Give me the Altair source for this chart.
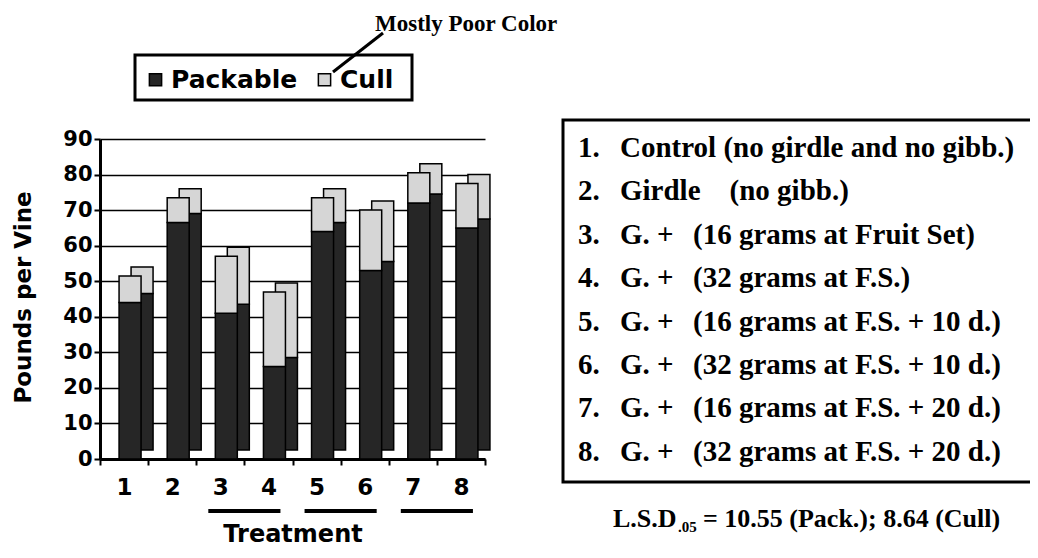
import altair as alt
import pandas as pd

# ---------------- data ----------------
treatments = ["1", "2", "3", "4", "5", "6", "7", "8"]
packable = [44, 66.5, 41, 26, 64, 53, 72, 65]
cull = [7.5, 7, 16, 21, 9.5, 17, 8.5, 12.5]
series = ["Packable", "Cull"]
series_colors = ["#262626", "#d6d6d6"]

group_start = ["3", "5", "7"]
group_end = ["4", "6", "8"]

list_nums = ["1.", "2.", "3.", "4.", "5.", "6.", "7.", "8."]
list_names = [
    "Control (no girdle and no gibb.)",
    "Girdle" + "\u00a0" * 4 + "(no gibb.)",
    "G. +", "G. +", "G. +", "G. +", "G. +", "G. +",
]
list_details = [
    "", "",
    "(16 grams at Fruit Set)",
    "(32 grams at F.S.)",
    "(16 grams at F.S. + 10 d.)",
    "(32 grams at F.S. + 10 d.)",
    "(16 grams at F.S. + 20 d.)",
    "(32 grams at F.S. + 20 d.)",
]
annotation = "Mostly Poor Color"
lsd_main = "L.S.D"
lsd_sub = ".05"
lsd_rest = "= 10.55 (Pack.); 8.64 (Cull)"

rows = []
for t, p, c in zip(treatments, packable, cull):
    rows.append({"treatment": t, "series": series[0], "value": p, "ord": 0})
    rows.append({"treatment": t, "series": series[1], "value": c, "ord": 1})
bars_df = pd.DataFrame(rows)
groups_df = pd.DataFrame({"start": group_start, "end": group_end})

SANS = "DejaVu Sans"
SERIF = "Liberation Serif"

x_scale = alt.Scale(domain=treatments, paddingInner=0, paddingOuter=0)
x_axis = alt.Axis(
    title="Treatment", labelAngle=0, labelFont=SANS, labelFontSize=23,
    labelFontWeight="bold", labelColor="black", labelPadding=11,
    tickBand="extent", tickSize=6, tickWidth=2, tickColor="black",
    domainWidth=3, domainColor="black", grid=False,
    titleFont=SANS, titleFontSize=24, titleFontWeight="bold", titleColor="black",
    titleY=75, titleBaseline="middle",
)
y_scale = alt.Scale(domain=[0, 90], nice=False)
y_axis = alt.Axis(
    title="Pounds per Vine", values=list(range(0, 100, 10)),
    labelFont=SANS, labelFontSize=21, labelFontWeight="bold", labelColor="black",
    labelPadding=2, tickSize=6, tickWidth=2, tickColor="black",
    domainWidth=3, domainColor="black", grid=True, gridColor="black", gridWidth=1.5,
    titleFont=SANS, titleFontSize=23, titleFontWeight="bold", titleColor="black",
    titleAngle=270, titleX=-77, titleY=158, titleAlign="center", titleBaseline="middle",
)
legend = alt.Legend(
    title=None, orient="none", legendX=43, legendY=-72, direction="horizontal",
    symbolType="square", symbolSize=150, symbolStrokeColor="black", symbolStrokeWidth=1.5,
    labelFont=SANS, labelFontSize=25, labelFontWeight="bold", labelColor="black",
    labelOffset=3, columnPadding=14, padding=0,
)

enc = dict(
    x=alt.X("treatment:N", scale=x_scale, axis=x_axis),
    y=alt.Y("value:Q", stack="zero", scale=y_scale, axis=y_axis),
    color=alt.Color("series:N", scale=alt.Scale(domain=series, range=series_colors), legend=legend),
    order=alt.Order("ord:Q", sort="ascending"),
)

back = alt.Chart(bars_df).mark_bar(size=22, xOffset=18, yOffset=-9, stroke="black", strokeWidth=1.5).encode(**enc)
front = alt.Chart(bars_df).mark_bar(size=22, xOffset=6, stroke="black", strokeWidth=1.5).encode(**enc)

underlines = alt.Chart(groups_df).mark_rule(strokeWidth=4, color="black", xOffset=-12, x2Offset=12).encode(
    x=alt.X("start:N", scale=x_scale, axis=x_axis),
    x2="end:N",
    y=alt.value(372),
)

one = pd.DataFrame({"k": [0]})

legend_box = alt.Chart(one).mark_rect(fillOpacity=0, stroke="black", strokeWidth=3).encode(
    x=alt.value(35), x2=alt.value(312), y=alt.value(-84), y2=alt.value(-39)
)
leader = alt.Chart(one).mark_rule(strokeWidth=3, color="black").encode(
    x=alt.value(283), x2=alt.value(233), y=alt.value(-106), y2=alt.value(-67)
)
annot = alt.Chart(pd.DataFrame({"t": [annotation]})).mark_text(
    font=SERIF, fontSize=23, fontWeight="bold", align="left", baseline="middle", color="black"
).encode(x=alt.value(275), y=alt.value(-115), text="t:N")

list_box = alt.Chart(one).mark_rect(fillOpacity=0, stroke="black", strokeWidth=3).encode(
    x=alt.value(463), x2=alt.value(960), y=alt.value(-19), y2=alt.value(343)
)

text_layers = []
for i, (n, nm, d) in enumerate(zip(list_nums, list_names, list_details)):
    yy = 9 + 43.4 * i
    for xx, s in ((478, n), (520, nm), (593, d)):
        if not s:
            continue
        text_layers.append(
            alt.Chart(pd.DataFrame({"t": [s]})).mark_text(
                font=SERIF, fontSize=29, fontWeight="bold", align="left", baseline="middle", color="black"
            ).encode(x=alt.value(xx), y=alt.value(yy), text="t:N")
        )

lsd_layers = [
    alt.Chart(pd.DataFrame({"t": [lsd_main]})).mark_text(
        font=SERIF, fontSize=26, fontWeight="bold", align="left", baseline="middle", color="black"
    ).encode(x=alt.value(513), y=alt.value(380), text="t:N"),
    alt.Chart(pd.DataFrame({"t": [lsd_sub]})).mark_text(
        font=SERIF, fontSize=15, fontWeight="bold", align="left", baseline="middle", color="black"
    ).encode(x=alt.value(578), y=alt.value(388), text="t:N"),
    alt.Chart(pd.DataFrame({"t": [lsd_rest]})).mark_text(
        font=SERIF, fontSize=26, fontWeight="bold", align="left", baseline="middle", color="black"
    ).encode(x=alt.value(603), y=alt.value(380), text="t:N"),
]

chart = alt.layer(
    back, front, underlines, legend_box, leader, annot, list_box, *text_layers, *lsd_layers
).properties(
    width=385, height=320,
    padding={"left": 92, "top": 131, "right": 545, "bottom": 90},
    autosize=alt.AutoSizeParams(type="none"),
    background="white",
).configure_view(stroke=None)

chart.save("out.html", embed_options={"renderer": "svg", "actions": False})
